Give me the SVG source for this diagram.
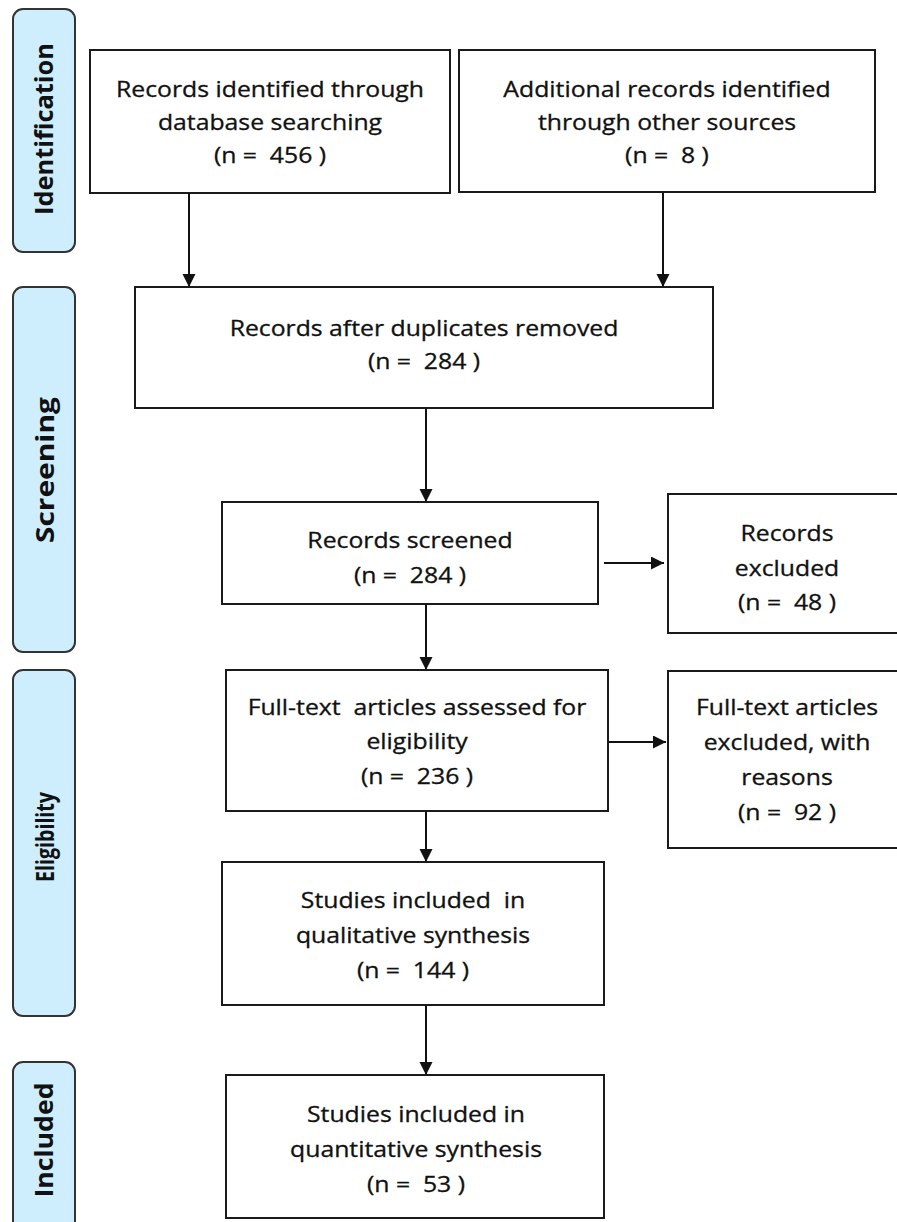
<svg xmlns="http://www.w3.org/2000/svg" width="897" height="1222" viewBox="0 0 897 1222">
<style>
.phase{fill:#cfeefd;stroke:#333;stroke-width:2}
.ptxt{font-family:"Open Sans",sans-serif;font-weight:bold;font-size:25px;fill:#111;text-anchor:middle}
.box{fill:#fff;stroke:#1a1a1a;stroke-width:2}
.t{font-family:"Open Sans",sans-serif;font-size:21px;fill:#111;text-anchor:middle;white-space:pre;stroke:#111;stroke-width:0.3}
.conn{stroke:#111;stroke-width:2;fill:none;marker-end:url(#ah)}
</style>
<defs>
<marker id="ah" markerUnits="userSpaceOnUse" markerWidth="14" markerHeight="14" refX="13" refY="6.5" orient="auto">
<path d="M0,0 L13,6.5 L0,13 z" fill="#111"/>
</marker>
</defs>
<rect width="897" height="1222" fill="#fff"/>
<g id="phase-identification">
<rect class="phase" x="13" y="9" width="62" height="243" rx="10"/>
<text class="ptxt" transform="translate(53 129) rotate(-90)" textLength="172" lengthAdjust="spacingAndGlyphs">Identification</text>
</g>
<g id="phase-screening">
<rect class="phase" x="13" y="287" width="62" height="365" rx="10"/>
<text class="ptxt" transform="translate(54 470) rotate(-90)" textLength="146" lengthAdjust="spacingAndGlyphs">Screening</text>
</g>
<g id="phase-eligibility">
<rect class="phase" x="13" y="670" width="62" height="346" rx="10"/>
<text class="ptxt" transform="translate(54 837) rotate(-90)" textLength="90" lengthAdjust="spacingAndGlyphs">Eligibility</text>
</g>
<g id="phase-included">
<rect class="phase" x="13" y="1062" width="62" height="180" rx="10"/>
<text class="ptxt" transform="translate(53 1140) rotate(-90)" textLength="115" lengthAdjust="spacingAndGlyphs">Included</text>
</g>

<g id="connectors">
<line class="conn" x1="189" y1="193" x2="189" y2="287"/>
<line class="conn" x1="663" y1="192" x2="663" y2="287"/>
<line class="conn" x1="426" y1="408" x2="426" y2="502"/>
<line class="conn" x1="426" y1="604" x2="426" y2="670"/>
<line class="conn" x1="426" y1="811" x2="426" y2="862"/>
<line class="conn" x1="426" y1="1005" x2="426" y2="1075"/>
<line class="conn" x1="604" y1="563" x2="664" y2="563"/>
<line class="conn" x1="609" y1="742" x2="666" y2="742"/>
</g>

<g id="db-records">
<rect class="box" x="90" y="50" width="360" height="143"/>
<text class="t" transform="translate(270 0) scale(1.18 1)" x="0" y="97">Records identified through</text>
<text class="t" transform="translate(270 0) scale(1.18 1)" x="0" y="130">database searching</text>
<text class="t" transform="translate(270 0) scale(1.18 1)" x="0" y="163">(n =  456 )</text>
</g>
<g id="other-records">
<rect class="box" x="459" y="50" width="416" height="142"/>
<text class="t" transform="translate(667 0) scale(1.18 1)" x="0" y="97">Additional records identified</text>
<text class="t" transform="translate(667 0) scale(1.18 1)" x="0" y="130">through other sources</text>
<text class="t" transform="translate(667 0) scale(1.18 1)" x="0" y="163">(n =  8 )</text>
</g>
<g id="dedup">
<rect class="box" x="135" y="287" width="578" height="121"/>
<text class="t" transform="translate(424 0) scale(1.18 1)" x="0" y="336">Records after duplicates removed</text>
<text class="t" transform="translate(424 0) scale(1.18 1)" x="0" y="369">(n =  284 )</text>
</g>
<g id="screened">
<rect class="box" x="222" y="502" width="376" height="102"/>
<text class="t" transform="translate(410 0) scale(1.18 1)" x="0" y="548">Records screened</text>
<text class="t" transform="translate(410 0) scale(1.18 1)" x="0" y="583">(n =  284 )</text>
</g>
<g id="excluded">
<rect class="box" x="668" y="494" width="240" height="139"/>
<text class="t" transform="translate(787 0) scale(1.18 1)" x="0" y="541">Records</text>
<text class="t" transform="translate(787 0) scale(1.18 1)" x="0" y="576">excluded</text>
<text class="t" transform="translate(787 0) scale(1.18 1)" x="0" y="610">(n =  48 )</text>
</g>
<g id="fulltext">
<rect class="box" x="226" y="670" width="382" height="141"/>
<text class="t" transform="translate(417 0) scale(1.18 1)" x="0" y="715">Full-text  articles assessed for</text>
<text class="t" transform="translate(417 0) scale(1.18 1)" x="0" y="749">eligibility</text>
<text class="t" transform="translate(417 0) scale(1.18 1)" x="0" y="784">(n =  236 )</text>
</g>
<g id="fulltext-excluded">
<rect class="box" x="668" y="671" width="240" height="177"/>
<text class="t" transform="translate(787 0) scale(1.18 1)" x="0" y="715">Full-text articles</text>
<text class="t" transform="translate(787 0) scale(1.18 1)" x="0" y="750">excluded, with</text>
<text class="t" transform="translate(787 0) scale(1.18 1)" x="0" y="785">reasons</text>
<text class="t" transform="translate(787 0) scale(1.18 1)" x="0" y="820">(n =  92 )</text>
</g>
<g id="qualitative">
<rect class="box" x="222" y="862" width="382" height="143"/>
<text class="t" transform="translate(413 0) scale(1.18 1)" x="0" y="908">Studies included  in</text>
<text class="t" transform="translate(413 0) scale(1.18 1)" x="0" y="943">qualitative synthesis</text>
<text class="t" transform="translate(413 0) scale(1.18 1)" x="0" y="978">(n =  144 )</text>
</g>
<g id="quantitative">
<rect class="box" x="226" y="1075" width="378" height="143"/>
<text class="t" transform="translate(416 0) scale(1.18 1)" x="0" y="1122">Studies included in</text>
<text class="t" transform="translate(416 0) scale(1.18 1)" x="0" y="1157">quantitative synthesis</text>
<text class="t" transform="translate(416 0) scale(1.18 1)" x="0" y="1192">(n =  53 )</text>
</g>
</svg>
